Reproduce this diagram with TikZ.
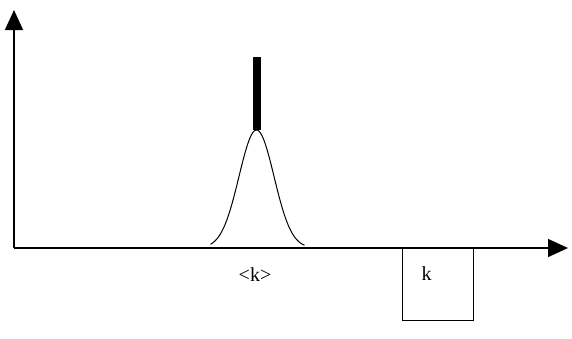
\documentclass[tikz,border=0pt]{standalone}
\usepackage{fontspec}
\setmainfont{Liberation Serif}
\usetikzlibrary{arrows.meta, positioning}

\begin{document}
\begin{tikzpicture}[
            x=1pt, y=-1pt,
            every node/.style={font=\fontsize{20}{24}\selectfont, inner sep=0pt},
            axis/.style={-{Triangle[length=20pt, width=18pt]}, line width=1.4pt, draw=black},
            box/.style={rectangle, draw=black, line width=1pt, minimum width=71pt, minimum height=72pt, anchor=north west},
            peak/.style={line width=8pt, draw=black},
            curve/.style={line width=1pt, draw=black}
        ]
            \useasboundingbox (0,0) rectangle (572,338);
            \coordinate (origin) at (14,248);
            \coordinate (ytip) at (14,10);
            \coordinate (xtip) at (568,248);
            \coordinate (top) at (256.5,57);
            \coordinate (mean) at (256.5,130);
            % box and labels
            \node[box] (window) at (402,248) {};
            \node (klabel) at (426.5,274) {k};
            \node (meanlabel) at (255,275) {<k>};
            % spread around the mean
            \draw[curve] plot[domain=-46:48, samples=80, smooth] ({256.5+\x},{248-118*exp(-(\x*\x)/(2*17.5*17.5))});
            \draw[peak] (top) -- (mean);
            % axes
            \draw[axis] (origin) -- (ytip);
            \draw[axis] (origin) -- (xtip);
        \end{tikzpicture}
\end{document}
